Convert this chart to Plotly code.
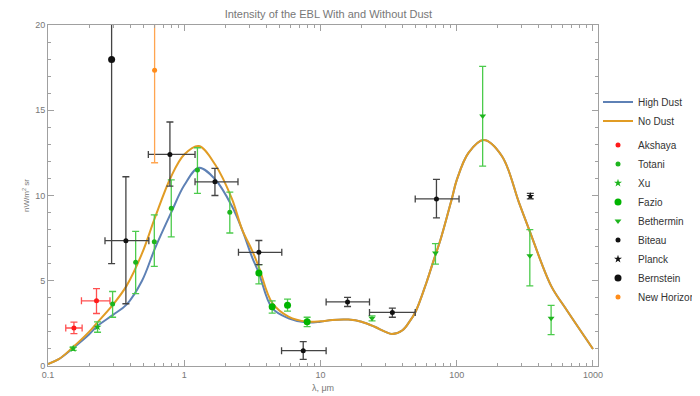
import numpy as np
import plotly.graph_objects as go

# ---------------- data ----------------
curve_x = [0.1, 0.12, 0.15, 0.2, 0.227, 0.3, 0.377, 0.49, 0.61, 0.8, 1.0, 1.28, 1.69, 2.24, 2.66,
           3.14, 3.53, 4.42, 5.82, 7.98, 10, 12.2, 16, 20, 25, 30, 33.5, 40, 45, 50, 60, 68, 76,
           92, 100, 122, 158, 215, 286, 340, 493, 627, 1000]
no_dust = [0.12, 0.4, 1.05, 2.0, 2.5, 3.6, 4.7, 6.6, 8.7, 11.1, 12.4, 12.9, 11.8, 9.8, 8.0,
           6.8, 5.8, 3.7, 2.9, 2.6, 2.62, 2.7, 2.72, 2.6, 2.3, 2.0, 1.88, 2.1, 2.6, 3.2, 4.9, 6.24, 7.4,
           9.8, 10.9, 12.5, 13.25, 12.3, 9.6, 8.0, 4.7, 3.4, 1.0]
high_dust = [0.12, 0.4, 1.0, 1.85, 2.3, 3.0, 3.6, 5.0, 6.9, 8.98, 10.6, 11.63, 10.94, 9.37, 8.0,
             6.4, 5.45, 3.39, 2.8, 2.55, 2.6, 2.7, 2.72, 2.6, 2.3, 2.0, 1.88, 2.1, 2.6, 3.2, 4.9, 6.24, 7.4,
             9.8, 10.9, 12.5, 13.25, 12.3, 9.6, 8.0, 4.7, 3.4, 1.0]

akshaya_x = [0.155, 0.227]
akshaya_xlo = [0.135, 0.176]
akshaya_xhi = [0.178, 0.285]
akshaya_y = [2.23, 3.82]
akshaya_ylo = [1.9, 3.08]
akshaya_yhi = [2.57, 4.54]

xu_x = [0.153, 0.231]
xu_y = [1.02, 2.29]
xu_ylo = [0.92, 1.98]
xu_yhi = [1.12, 2.59]

totani_x = [0.298, 0.44, 0.603, 0.803, 1.25, 2.16]
totani_y = [3.63, 6.08, 7.29, 9.25, 11.49, 9.02]
totani_ylo = [2.86, 4.24, 5.84, 7.57, 10.12, 7.8]
totani_yhi = [4.37, 7.9, 8.86, 10.92, 12.8, 10.2]

fazio_x = [3.53, 4.42, 5.73, 7.98]
fazio_y = [5.45, 3.47, 3.57, 2.59]
fazio_ylo = [4.82, 3.1, 3.22, 2.31]
fazio_yhi = [5.94, 3.82, 3.92, 2.86]

beth_x = [23.9, 69.8, 155, 344, 493]
beth_y = [2.8, 6.63, 14.67, 6.47, 2.8]
beth_ylo = [2.65, 5.98, 11.72, 4.7, 1.84]
beth_yhi = [2.94, 7.18, 17.57, 8.0, 3.55]

biteau_x = [0.373, 0.785, 1.68, 3.53, 7.47, 15.8, 33.7, 71]
biteau_xlo = [0.262, 0.545, 1.2, 2.5, 5.18, 11.0, 22.9, 49.6]
biteau_xhi = [0.55, 1.2, 2.48, 5.2, 11.0, 22.9, 49.6, 104]
biteau_y = [7.35, 12.41, 10.8, 6.67, 0.9, 3.76, 3.14, 9.8]
biteau_ylo = [3.65, 10.55, 10.0, 5.94, 0.39, 3.49, 2.86, 8.69]
biteau_yhi = [11.1, 14.31, 11.59, 7.36, 1.43, 4.02, 3.39, 10.94]

planck_x = [347]
planck_y = [9.96]
planck_ylo = [9.8]
planck_yhi = [10.12]

bern_x = [0.293]
bern_y = [17.98]
bern_ylo = [6.0]
bern_yhi = [30.0]

nh_x = [0.606]
nh_y = [17.35]
nh_ylo = [11.92]
nh_yhi = [24.0]

x_major = [0.1, 1, 10, 100, 1000]
x_major_text = ["0.1", "1", "10", "100", "1000"]
y_major = [0, 5, 10, 15, 20]

# ---------------- styling ----------------
BLUE = "#5E81B5"
ORANGE = "#E19C24"
GREEN = "#1DB51D"
GREEN_ERR = "#4CCB4C"
BLACK = "#111111"
BLACK_ERR = "#444444"
RED = "#FF1A1A"
RED_ERR = "#FF5050"
NH = "#FF8C1A"
NH_ERR = "#FFA550"


def err(vals, lo, hi):
    v = np.array(vals, float)
    return dict(type="data", symmetric=False,
                array=(np.array(hi, float) - v).tolist(),
                arrayminus=(v - np.array(lo, float)).tolist())


fig = go.Figure()

fig.add_trace(go.Scatter(x=curve_x, y=high_dust, mode="lines", name="High Dust",
                         line=dict(color=BLUE, width=2, shape="spline", smoothing=1.0),
                         legendgroup="curves"))
fig.add_trace(go.Scatter(x=curve_x, y=no_dust, mode="lines", name="No Dust",
                         line=dict(color=ORANGE, width=2, shape="spline", smoothing=1.0),
                         legendgroup="curves"))


def add_points(name, x, y, ylo, yhi, color, ecolor, symbol, size, xlo=None, xhi=None):
    ex = None
    if xlo is not None:
        e = err(x, xlo, xhi)
        ex = dict(e, color=ecolor, thickness=1.3, width=3.5)
    ey = dict(err(y, ylo, yhi), color=ecolor, thickness=1.3, width=3.5)
    fig.add_trace(go.Scatter(x=x, y=y, mode="markers", name=name,
                             marker=dict(color=color, symbol=symbol, size=size,
                                         line=dict(width=0)),
                             error_y=ey, error_x=ex, legendgroup="pts"))


add_points("Akshaya", akshaya_x, akshaya_y, akshaya_ylo, akshaya_yhi, RED, RED_ERR,
           "circle", 5, akshaya_xlo, akshaya_xhi)
add_points("Totani", totani_x, totani_y, totani_ylo, totani_yhi, GREEN, GREEN_ERR, "circle", 5)
add_points("Xu", xu_x, xu_y, xu_ylo, xu_yhi, GREEN, GREEN_ERR, "star", 6)
add_points("Fazio", fazio_x, fazio_y, fazio_ylo, fazio_yhi, "#00B400", GREEN_ERR, "circle", 7)
add_points("Bethermin", beth_x, beth_y, beth_ylo, beth_yhi, GREEN, GREEN_ERR, "triangle-down", 6)
add_points("Biteau", biteau_x, biteau_y, biteau_ylo, biteau_yhi, BLACK, BLACK_ERR, "circle", 5,
           biteau_xlo, biteau_xhi)
add_points("Planck", planck_x, planck_y, planck_ylo, planck_yhi, BLACK, BLACK_ERR, "star", 6)
add_points("Bernstein", bern_x, bern_y, bern_ylo, bern_yhi, BLACK, BLACK_ERR, "circle", 7)
add_points("New Horizons", nh_x, nh_y, nh_ylo, nh_yhi, NH, NH_ERR, "circle", 5)

minor_x = [m * 10.0 ** d for d in range(-1, 3) for m in range(2, 10)]

AX = "#A0A0A0"
TICKFONT = dict(family="Liberation Sans, Arial, sans-serif", size=9, color="#777777")

fig.update_layout(
    width=700, height=396,
    margin=dict(l=40, r=110, t=17, b=38, autoexpand=False),
    paper_bgcolor="white", plot_bgcolor="white",
    font=dict(family="Liberation Sans, Arial, sans-serif", color="#444444"),
    title=dict(text="Intensity of the EBL With and Without Dust",
               font=dict(size=11, color="#777777"),
               x=0.4577, xanchor="center", y=0.985, yanchor="middle"),
    showlegend=True,
    legend=dict(x=1.0, xanchor="left", y=0.8165, yanchor="top",
                font=dict(size=10, color="#333333"),
                tracegroupgap=5, traceorder="grouped",
                bgcolor="rgba(0,0,0,0)", itemwidth=30),
    xaxis=dict(type="log", range=[-1, 3.037], showgrid=False, zeroline=False,
               showline=True, linecolor=AX, linewidth=1, mirror="ticks",
               ticks="inside", ticklen=6, tickcolor=AX,
               tickvals=x_major, ticktext=x_major_text, tickfont=TICKFONT,
               minor=dict(tickvals=minor_x, ticks="inside", ticklen=3, tickcolor=AX, showgrid=False),
               title=dict(text="λ, μm", font=dict(size=9, color="#777777"), standoff=5)),
    yaxis=dict(range=[0, 20], showgrid=False, zeroline=False,
               showline=True, linecolor=AX, linewidth=1, mirror="ticks",
               ticks="inside", ticklen=6, tickcolor=AX,
               tickvals=y_major, tickfont=TICKFONT,
               minor=dict(dtick=1, ticks="inside", ticklen=3, tickcolor=AX, showgrid=False),
               title=dict(text="nW/m<sup>2</sup> sr", font=dict(size=8, color="#777777"), standoff=4)),
)

fig.write_html("out.html")
